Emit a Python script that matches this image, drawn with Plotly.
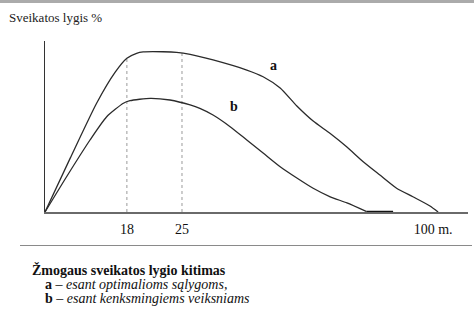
import plotly.graph_objects as go

# Schematic units: x 0..~109 (age axis, non-linear sketch), y 0..100 (health level)
a_x = [0, 6.5, 13.3, 18.0, 21.1, 23.6, 25.3, 30.4, 33.9, 37.4, 43.3, 52.0, 56.2, 60.6,
       64.9, 69.1, 73.5, 77.8, 82.0, 86.3, 90.6, 94.8, 99.2, 101.3]
a_y = [0, 31.5, 63.6, 81.5, 89.9, 92.8, 93.6, 93.7, 93.4, 92.2, 88.9, 83.0, 79.1, 72.5,
       62.0, 53.2, 45.9, 38.0, 29.4, 21.6, 13.9, 8.9, 3.5, 0]
b_x = [0, 5.8, 11.6, 15.9, 20.2, 21.9, 27.1, 32.2, 37.4, 39.9, 43.3, 47.7, 52.0, 56.2,
       60.6, 64.9, 69.1, 73.5, 77.8, 82.9]
b_y = [0, 21.5, 42.1, 55.7, 63.6, 65.1, 66.5, 65.5, 62.6, 60.6, 56.7, 49.9, 42.1, 34.5,
       26.5, 19.9, 13.9, 8.9, 5.3, 0.2]
b_tail_x = [82.9, 89.7]
b_tail_y = [0, 0]

guide_x = [21.1, 35.3]
guide_top = [89.9, 93.2]

tick_vals = [21.1, 35.3, 100]
tick_text = ["18", "25", "100 m."]

curve_labels = ["a", "b"]
label_x = [58.8, 48.7]
label_y = [85.4, 61.6]

y_title = "Sveikatos lygis %"
caption = ["<b>Žmogaus sveikatos lygio kitimas</b>",
           "<b>a</b> – <i>esant optimalioms sąlygoms,</i>",
           "<b>b</b> – <i>esant kenksmingiems veiksniams</i>"]

W, H = 474, 309
FONT = "Liberation Serif, Times New Roman, serif"
LINE = "#2b2b2b"

fig = go.Figure()

for gx, gt in zip(guide_x, guide_top):
    fig.add_trace(go.Scatter(x=[gx, gx], y=[0, gt], mode="lines",
                             line=dict(color="#9a9a9a", width=1, dash="dot"),
                             hoverinfo="skip", showlegend=False))

fig.add_trace(go.Scatter(x=a_x, y=a_y, mode="lines",
                         line=dict(color=LINE, width=1.3, shape="spline", smoothing=0.6),
                         showlegend=False))
fig.add_trace(go.Scatter(x=b_x, y=b_y, mode="lines",
                         line=dict(color=LINE, width=1.3, shape="spline", smoothing=0.6),
                         showlegend=False))
fig.add_trace(go.Scatter(x=b_tail_x, y=b_tail_y, mode="lines",
                         line=dict(color="#111", width=2.5),
                         showlegend=False))

for t, lx, ly in zip(curve_labels, label_x, label_y):
    fig.add_annotation(x=lx, y=ly, text=f"<b>{t}</b>", showarrow=False,
                       font=dict(family=FONT, size=14, color="#111"))

x0, x1 = 45 / W, 468 / W
y0, y1 = 1 - 212 / H, 1 - 41 / H

fig.update_xaxes(domain=[x0, x1], range=[0, 109], showgrid=False, zeroline=False,
                 showline=True, linecolor="#6a6a6a", linewidth=2,
                 tickmode="array", tickvals=tick_vals, ticktext=tick_text,
                 ticks="", ticklabelstandoff=3,
                 tickfont=dict(family=FONT, size=14, color="#111"))
fig.update_yaxes(domain=[y0, y1], range=[0, 100], showgrid=False, zeroline=False,
                 showline=True, linecolor="#333", linewidth=1.2,
                 showticklabels=False, ticks="")

fig.add_annotation(xref="paper", yref="paper", x=7 / W, y=1 - 18 / H, xanchor="left",
                   yanchor="middle", text=y_title, showarrow=False,
                   font=dict(family=FONT, size=13, color="#222"))

cap_x = [30, 43, 43]
cap_y = [270, 284, 298]
for t, cx, cy in zip(caption, cap_x, cap_y):
    fig.add_annotation(xref="paper", yref="paper", x=cx / W, y=1 - cy / H,
                       xanchor="left", yanchor="middle", text=t, showarrow=False,
                       font=dict(family=FONT, size=14, color="#111"))

# frame decorations
fig.add_shape(type="rect", xref="paper", yref="paper", x0=0, x1=1, y0=1 - 3 / H, y1=1,
              fillcolor="#ababab", line=dict(width=0))
fig.add_shape(type="line", xref="paper", yref="paper", x0=20 / W, x1=472 / W,
              y0=1 - 245.5 / H, y1=1 - 245.5 / H, line=dict(color="#8a8a8a", width=1))

fig.update_layout(width=W, height=H, margin=dict(l=0, r=0, t=0, b=0),
                  paper_bgcolor="white", plot_bgcolor="white", showlegend=False)

fig.write_html("out.html")
